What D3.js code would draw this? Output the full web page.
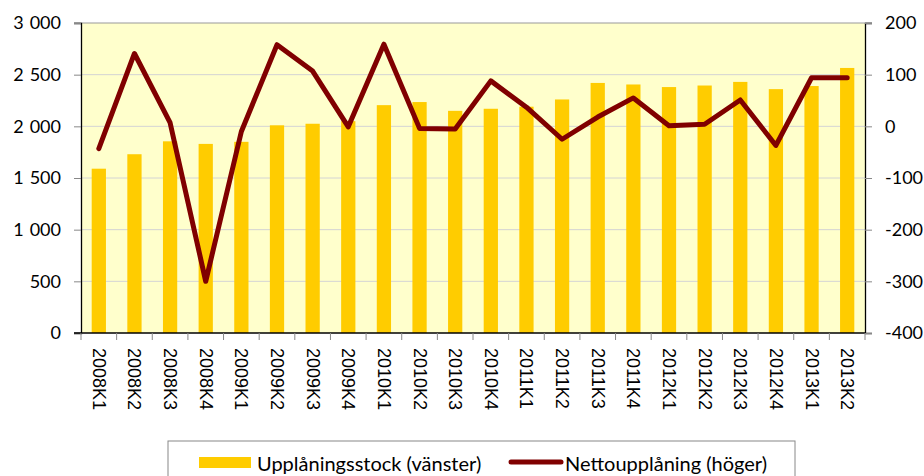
<!DOCTYPE html>
<html>
<head>
<meta charset="utf-8">
<script src="https://cdn.jsdelivr.net/npm/d3@7"></script>
<style>
  html, body { margin: 0; padding: 0; background: #ffffff; }
  svg { display: block; }
</style>
</head>
<body>
<svg id="chart" width="924" height="476"></svg>
<script>
const categories = ["2008K1","2008K2","2008K3","2008K4","2009K1","2009K2","2009K3","2009K4",
  "2010K1","2010K2","2010K3","2010K4","2011K1","2011K2","2011K3","2011K4",
  "2012K1","2012K2","2012K3","2012K4","2013K1","2013K2"];
const stockValues = [1590,1730,1855,1830,1850,2010,2025,2050,
  2205,2235,2150,2170,2190,2260,2420,2405,
  2380,2395,2430,2360,2390,2565];
const netValues = [-43,141,7,-300,-10,158,107,-1,
  159,-4,-5,88,37,-25,18,55,
  1,4,51,-37,94,94];
const leftTicks = [0,500,1000,1500,2000,2500,3000];
const rightTicks = [-400,-300,-200,-100,0,100,200];
const seriesNames = ["Upplåningsstock (vänster)", "Nettoupplåning (höger)"];

const svg = d3.select("#chart");
const L = 81, R = 865, T = 23, B = 333;
const fmt = v => String(v).replace(/\B(?=(\d{3})+(?!\d))/g, "\u2004");

const x = d3.scaleBand().domain(categories).range([L, R]).paddingInner(0.6).paddingOuter(0.3);
const yL = d3.scaleLinear().domain([0, 3000]).range([B, T]);
const yR = d3.scaleLinear().domain([-400, 200]).range([B, T]);

// plot background
svg.append("rect").attr("x", L).attr("y", T).attr("width", R - L).attr("height", B - T).attr("fill", "#FFFFCC");

// gridlines
svg.append("g").selectAll("line").data(leftTicks.filter(d => d > 0 && d < 3000)).join("line")
  .attr("x1", L).attr("x2", R).attr("y1", d => yL(d)).attr("y2", d => yL(d))
  .attr("stroke", "#d4d4d4").attr("stroke-width", 1);
svg.append("line").attr("x1", L - 7).attr("x2", R + 7).attr("y1", yL(3000)).attr("y2", yL(3000))
  .attr("stroke", "#999999").attr("stroke-width", 1.2);

// bars
svg.append("g").selectAll("rect").data(categories).join("rect")
  .attr("x", d => x(d)).attr("width", x.bandwidth())
  .attr("y", (d, i) => yL(stockValues[i])).attr("height", (d, i) => yL(0) - yL(stockValues[i]))
  .attr("fill", "#FFCC00");

// left axis
const gL = svg.append("g").attr("transform", `translate(${L},0)`)
  .call(d3.axisLeft(yL).tickValues(leftTicks).tickFormat(fmt).tickSize(7).tickPadding(13));
gL.select(".domain").attr("stroke", "#000").attr("stroke-width", 1.3);
gL.selectAll(".tick line").attr("stroke", "#888");
gL.selectAll("text").attr("font-family", "Lato, sans-serif").attr("font-size", 18).attr("fill", "#000");

// right axis
const gR = svg.append("g").attr("transform", `translate(${R},0)`)
  .call(d3.axisRight(yR).tickValues(rightTicks).tickFormat(d => String(d)).tickSize(7).tickPadding(13));
gR.select(".domain").attr("stroke", "#000").attr("stroke-width", 1.3);
gR.selectAll(".tick line").attr("stroke", "#888");
gR.selectAll("text").attr("font-family", "Lato, sans-serif").attr("font-size", 18).attr("fill", "#000");

// bottom axis
const step = x.step();
svg.append("line").attr("x1", L - 7).attr("x2", R).attr("y1", B).attr("y2", B).attr("stroke", "#000").attr("stroke-width", 1.3);
svg.append("g").selectAll("line").data(d3.range(categories.length + 1)).join("line")
  .attr("x1", i => L + i * step).attr("x2", i => L + i * step)
  .attr("y1", B).attr("y2", B + 7).attr("stroke", "#888");
svg.append("g").selectAll("text").data(categories).join("text")
  .attr("transform", d => `translate(${x(d) + x.bandwidth() / 2},${B + 15}) rotate(90)`)
  .attr("dominant-baseline", "central")
  .attr("font-family", "'Liberation Sans', Arial, sans-serif").attr("font-size", 18)
  .attr("fill", "#000").text(d => d);

// line
const line = d3.line().x((d, i) => x(categories[i]) + x.bandwidth() / 2).y(d => yR(d));
svg.append("path").datum(netValues).attr("d", line)
  .attr("fill", "none").attr("stroke", "#800000").attr("stroke-width", 5)
  .attr("stroke-linejoin", "round").attr("stroke-linecap", "round");

// legend
const lg = svg.append("g");
lg.append("rect").attr("x", 168).attr("y", 441).attr("width", 627).attr("height", 60)
  .attr("fill", "#fff").attr("stroke", "#888").attr("stroke-width", 1);
lg.append("rect").attr("x", 199).attr("y", 457).attr("width", 52).attr("height", 11).attr("fill", "#FFCC00");
lg.append("text").attr("x", 257).attr("y", 463).attr("dominant-baseline", "central")
  .attr("font-family", "Lato, sans-serif").attr("font-size", 20).attr("fill", "#000").text(seriesNames[0]);
lg.append("line").attr("x1", 511).attr("x2", 561).attr("y1", 462).attr("y2", 462)
  .attr("stroke", "#800000").attr("stroke-width", 5).attr("stroke-linecap", "round");
lg.append("text").attr("x", 565).attr("y", 463).attr("dominant-baseline", "central")
  .attr("font-family", "Lato, sans-serif").attr("font-size", 20).attr("fill", "#000").text(seriesNames[1]);
</script>
</body>
</html>
